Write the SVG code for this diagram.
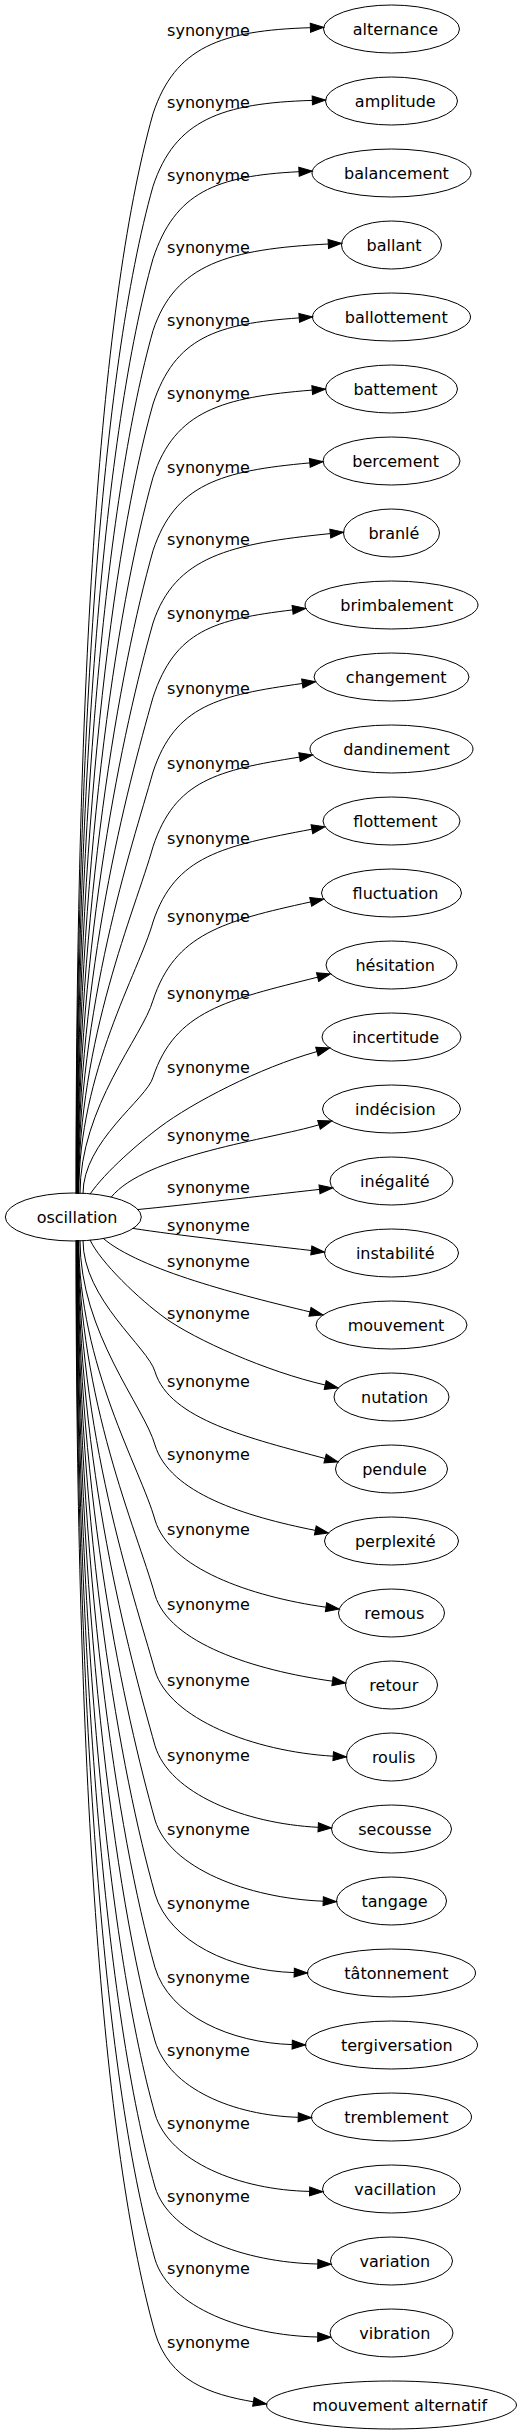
<svg xmlns="http://www.w3.org/2000/svg" width="523" height="2435" viewBox="0 0 523 2435">
<style>
text{font-family:"DejaVu Sans","Liberation Sans",sans-serif;font-size:16px;fill:#000;text-anchor:middle}
.node ellipse{fill:none;stroke:#000;stroke-width:1}
.edge path{fill:none;stroke:#000;stroke-width:1;marker-end:url(#ah)}
</style>
<defs>
<marker id="ah" viewBox="0 0 13.3 9.4" refX="0" refY="4.7" markerWidth="13.3" markerHeight="9.4" markerUnits="userSpaceOnUse" orient="auto" overflow="visible">
<path d="M0,0.2 L13.3,4.7 L0,9.2 z" fill="#000" stroke="#000" stroke-width="1"/>
</marker>
</defs>
<rect width="523" height="2435" fill="#fff"/>
<g id="connectors">
<g class="edge" id="edge-alternance"><path d="M76,1193.6 C76,707.6 96.8,313.5 153,113.7 C175,47.2 220.7,30.4 310.4,27.7"/><text x="208.5" y="35.7">synonyme</text></g>
<g class="edge" id="edge-amplitude"><path d="M76.25,1193.6 C76.25,740.3 100.6,372.7 153,186.3 C175,119.8 221.5,103.1 312.3,100.4"/><text x="208.5" y="108.3">synonyme</text></g>
<g class="edge" id="edge-balancement"><path d="M76.5,1193.6 C76.5,772.9 104.4,431.7 153,258.7 C175,192.2 215.9,175.9 299,171.7"/><text x="208.5" y="180.7">synonyme</text></g>
<g class="edge" id="edge-ballant"><path d="M76.75,1193.6 C76.75,805.3 108.1,490.3 153,330.7 C175,264.2 228.5,249 328.3,244"/><text x="208.5" y="252.7">synonyme</text></g>
<g class="edge" id="edge-ballottement"><path d="M77,1193.6 C77,838.3 111.9,550.1 153,404 C175,337.5 216.1,323.7 299.2,317.9"/><text x="208.5" y="326">synonyme</text></g>
<g class="edge" id="edge-battement"><path d="M77.25,1193.6 C77.25,871.3 115.8,609.8 153,477.3 C175,410.8 221.8,397.3 312.2,390.1"/><text x="208.5" y="399.3">synonyme</text></g>
<g class="edge" id="edge-bercement"><path d="M77.5,1193.6 C77.5,904.3 119.6,669.6 153,550.7 C175,484.2 220.8,470.9 309.8,462.9"/><text x="208.5" y="472.7">synonyme</text></g>
<g class="edge" id="edge-branle"><path d="M77.75,1193.6 C77.75,936.8 123.3,728.6 153,623 C175,556.5 229.7,543.7 330.3,533.6"/><text x="208.5" y="545">synonyme</text></g>
<g class="edge" id="edge-brimbalement"><path d="M78,1193.6 C78,970.3 127.2,789.1 153,697.3 C175,630.8 213.6,619.4 292.6,609.9"/><text x="208.5" y="619.3">synonyme</text></g>
<g class="edge" id="edge-changement"><path d="M78.25,1193.6 C78.25,1003.9 131.1,850 153,772 C175,705.5 218,695.3 302.3,683.5"/><text x="208.5" y="694">synonyme</text></g>
<g class="edge" id="edge-dandinement"><path d="M78.5,1193.6 C78.5,1037.5 135,910.9 153,846.7 C175,780.2 217,770.3 299.5,757.1"/><text x="208.5" y="768.7">synonyme</text></g>
<g class="edge" id="edge-flottement"><path d="M78.75,1193.6 C78.75,1071.4 138.9,972.2 153,922 C175,855.5 222.9,846.1 311.9,829.2"/><text x="208.5" y="844">synonyme</text></g>
<g class="edge" id="edge-fluctuation"><path d="M80,1193.6 C80,1106.6 142.9,1036.1 153,1000.3 C175,933.8 222.9,921.2 310.7,901.9"/><text x="208.5" y="922.3">synonyme</text></g>
<g class="edge" id="edge-hesitation"><path d="M83,1193.7 C83,1141.3 147,1098.8 153,1077.3 C175,1010.8 226.6,1000 317.6,977.2"/><text x="208.5" y="999.3">synonyme</text></g>
<g class="edge" id="edge-incertitude"><path d="M90,1194.2 C105,1172 140,1142 160,1127 C192,1103 259.1,1067.8 316.9,1051.6"/><text x="208.5" y="1072.7">synonyme</text></g>
<g class="edge" id="edge-indecision"><path d="M111,1197.4 C145,1155 271,1139.2 319,1124.8"/><text x="208.5" y="1141">synonyme</text></g>
<g class="edge" id="edge-inegalite"><path d="M138,1209.5 C185,1205 260,1196 319.5,1189.4"/><text x="208.5" y="1193.3">synonyme</text></g>
<g class="edge" id="edge-instabilite"><path d="M133,1228.4 C175,1235 255,1244 311.3,1250.5"/><text x="208.5" y="1230.7">synonyme</text></g>
<g class="edge" id="edge-mouvement"><path d="M103,1238.2 C140,1270 242,1295.6 310,1311.9"/><text x="208.5" y="1267">synonyme</text></g>
<g class="edge" id="edge-nutation"><path d="M90,1239.8 C100,1262 140,1300 165,1318 C195,1339.6 266.7,1371.6 325.2,1385"/><text x="208.5" y="1319.3">synonyme</text></g>
<g class="edge" id="edge-pendule"><path d="M83,1240.3 C83,1299.4 148.2,1347.4 155,1371.7 C169.5,1419.7 251.2,1438.6 325.1,1458.5"/><text x="208.5" y="1386.7">synonyme</text></g>
<g class="edge" id="edge-perplexite"><path d="M80,1240.4 C80,1332.5 144.4,1407.1 155,1445 C169.5,1493 244.6,1516.3 315.3,1530.4"/><text x="208.5" y="1460">synonyme</text></g>
<g class="edge" id="edge-remous"><path d="M78.75,1240.4 C78.75,1366.2 140.5,1468.3 155,1520 C169.5,1568 249.7,1596.5 326,1607.2"/><text x="208.5" y="1535">synonyme</text></g>
<g class="edge" id="edge-retour"><path d="M78.5,1240.4 C78.5,1400 136.6,1529.4 155,1595 C169.5,1643 253.4,1670.1 332.5,1681.2"/><text x="208.5" y="1610">synonyme</text></g>
<g class="edge" id="edge-roulis"><path d="M78.25,1240.4 C78.25,1434 132.6,1591.1 155,1670.7 C169.5,1718.7 253.1,1751.4 333.2,1756.2"/><text x="208.5" y="1685.7">synonyme</text></g>
<g class="edge" id="edge-secousse"><path d="M78,1240.4 C78,1467.8 128.7,1652.2 155,1745.7 C169.5,1793.7 244.9,1823.6 318.2,1827.3"/><text x="208.5" y="1760.7">synonyme</text></g>
<g class="edge" id="edge-tangage"><path d="M77.75,1240.4 C77.75,1501.2 124.9,1712.8 155,1820 C169.5,1868 247.6,1898.2 323.2,1901.2"/><text x="208.5" y="1835">synonyme</text></g>
<g class="edge" id="edge-tatonnement"><path d="M77.5,1240.4 C77.5,1534.5 121,1773.1 155,1894 C169.5,1942 231.6,1970.7 294.2,1972.6"/><text x="208.5" y="1909">synonyme</text></g>
<g class="edge" id="edge-tergiversation"><path d="M77.25,1240.4 C77.25,1567.7 117.2,1833.1 155,1967.7 C169.5,2015.7 230.5,2042.7 292.2,2044.6"/><text x="208.5" y="1982.7">synonyme</text></g>
<g class="edge" id="edge-tremblement"><path d="M77,1240.4 C77,1600.7 113.4,1892.9 155,2041 C169.5,2089 233.8,2115.4 298.2,2117.3"/><text x="208.5" y="2056">synonyme</text></g>
<g class="edge" id="edge-vacillation"><path d="M76.75,1240.4 C76.75,1633.5 109.6,1952.4 155,2114 C169.5,2162 240,2190 309.6,2191.4"/><text x="208.5" y="2129">synonyme</text></g>
<g class="edge" id="edge-variation"><path d="M76.5,1240.4 C76.5,1666.4 105.8,2011.9 155,2187 C169.5,2235 244.5,2262.5 317.8,2264"/><text x="208.5" y="2202">synonyme</text></g>
<g class="edge" id="edge-vibration"><path d="M76.25,1240.4 C76.25,1698.9 102,2070.8 155,2259.3 C169.5,2307.3 244.5,2335.5 317.7,2337"/><text x="208.5" y="2274.3">synonyme</text></g>
<g class="edge" id="edge-mouvement-alternatif"><path d="M76,1240.4 C76,1731.9 98.2,2130.6 155,2332.7 C169.5,2380.7 209.7,2394.4 253.4,2401.8"/><text x="208.5" y="2347.7">synonyme</text></g>
</g>
<g class="node" id="node-oscillation"><ellipse cx="73.3" cy="1217" rx="68" ry="24"/><text x="77" y="1222.7">oscillation</text></g>
<g class="node" id="node-alternance"><ellipse cx="391.5" cy="29" rx="68" ry="24"/><text x="395.5" y="34.7">alternance</text></g>
<g class="node" id="node-amplitude"><ellipse cx="391.5" cy="101" rx="66" ry="24"/><text x="395.3" y="106.7">amplitude</text></g>
<g class="node" id="node-balancement"><ellipse cx="391.5" cy="173" rx="79.5" ry="24"/><text x="396.4" y="178.7">balancement</text></g>
<g class="node" id="node-ballant"><ellipse cx="391.5" cy="245" rx="50" ry="24"/><text x="394.1" y="250.7">ballant</text></g>
<g class="node" id="node-ballottement"><ellipse cx="391.5" cy="317" rx="79" ry="24"/><text x="396.3" y="322.7">ballottement</text></g>
<g class="node" id="node-battement"><ellipse cx="391.5" cy="389" rx="66" ry="24"/><text x="395.5" y="394.7">battement</text></g>
<g class="node" id="node-bercement"><ellipse cx="391.5" cy="461" rx="68.5" ry="24"/><text x="395.6" y="466.7">bercement</text></g>
<g class="node" id="node-branle"><ellipse cx="391.5" cy="533" rx="48" ry="24"/><text x="393.9" y="538.7">branlé</text></g>
<g class="node" id="node-brimbalement"><ellipse cx="391.5" cy="605" rx="86.5" ry="24"/><text x="396.8" y="610.7">brimbalement</text></g>
<g class="node" id="node-changement"><ellipse cx="391.5" cy="677" rx="77.5" ry="24"/><text x="396.2" y="682.7">changement</text></g>
<g class="node" id="node-dandinement"><ellipse cx="391.5" cy="749" rx="81.5" ry="24"/><text x="396.5" y="754.7">dandinement</text></g>
<g class="node" id="node-flottement"><ellipse cx="391.5" cy="821" rx="68.5" ry="24"/><text x="395.4" y="826.7">flottement</text></g>
<g class="node" id="node-fluctuation"><ellipse cx="391.5" cy="893" rx="70" ry="24"/><text x="395.5" y="898.7">fluctuation</text></g>
<g class="node" id="node-hesitation"><ellipse cx="391.5" cy="965" rx="65.5" ry="24"/><text x="395.2" y="970.7">hésitation</text></g>
<g class="node" id="node-incertitude"><ellipse cx="391.5" cy="1037" rx="69.5" ry="24"/><text x="395.6" y="1042.7">incertitude</text></g>
<g class="node" id="node-indecision"><ellipse cx="391.5" cy="1109" rx="69" ry="24"/><text x="395.3" y="1114.7">indécision</text></g>
<g class="node" id="node-inegalite"><ellipse cx="391.5" cy="1181" rx="61.5" ry="24"/><text x="394.8" y="1186.7">inégalité</text></g>
<g class="node" id="node-instabilite"><ellipse cx="391.5" cy="1253" rx="67" ry="24"/><text x="395.2" y="1258.7">instabilité</text></g>
<g class="node" id="node-mouvement"><ellipse cx="391.5" cy="1325" rx="75.5" ry="24"/><text x="396" y="1330.7">mouvement</text></g>
<g class="node" id="node-nutation"><ellipse cx="391.5" cy="1397" rx="57.5" ry="24"/><text x="394.6" y="1402.7">nutation</text></g>
<g class="node" id="node-pendule"><ellipse cx="391.5" cy="1469" rx="56" ry="24"/><text x="394.5" y="1474.7">pendule</text></g>
<g class="node" id="node-perplexite"><ellipse cx="391.5" cy="1541" rx="67" ry="24"/><text x="395.3" y="1546.7">perplexité</text></g>
<g class="node" id="node-remous"><ellipse cx="391.5" cy="1613" rx="53" ry="24"/><text x="394.3" y="1618.7">remous</text></g>
<g class="node" id="node-retour"><ellipse cx="391.5" cy="1685" rx="46" ry="24"/><text x="393.8" y="1690.7">retour</text></g>
<g class="node" id="node-roulis"><ellipse cx="391.5" cy="1757" rx="45" ry="24"/><text x="393.6" y="1762.7">roulis</text></g>
<g class="node" id="node-secousse"><ellipse cx="391.5" cy="1829" rx="60" ry="24"/><text x="395" y="1834.7">secousse</text></g>
<g class="node" id="node-tangage"><ellipse cx="391.5" cy="1901" rx="55" ry="24"/><text x="394.6" y="1906.7">tangage</text></g>
<g class="node" id="node-tatonnement"><ellipse cx="391.5" cy="1973" rx="84" ry="24"/><text x="396.4" y="1978.7">tâtonnement</text></g>
<g class="node" id="node-tergiversation"><ellipse cx="391.5" cy="2045" rx="86" ry="24"/><text x="396.8" y="2050.7">tergiversation</text></g>
<g class="node" id="node-tremblement"><ellipse cx="391.5" cy="2117" rx="80" ry="24"/><text x="396.4" y="2122.7">tremblement</text></g>
<g class="node" id="node-vacillation"><ellipse cx="391.5" cy="2189" rx="69" ry="24"/><text x="395.3" y="2194.7">vacillation</text></g>
<g class="node" id="node-variation"><ellipse cx="391.5" cy="2261" rx="61" ry="24"/><text x="394.8" y="2266.7">variation</text></g>
<g class="node" id="node-vibration"><ellipse cx="391.5" cy="2333" rx="61.5" ry="24"/><text x="394.8" y="2338.7">vibration</text></g>
<g class="node" id="node-mouvement-alternatif"><ellipse cx="391.5" cy="2405" rx="125" ry="24"/><text x="399.7" y="2410.7">mouvement alternatif</text></g>
</svg>
